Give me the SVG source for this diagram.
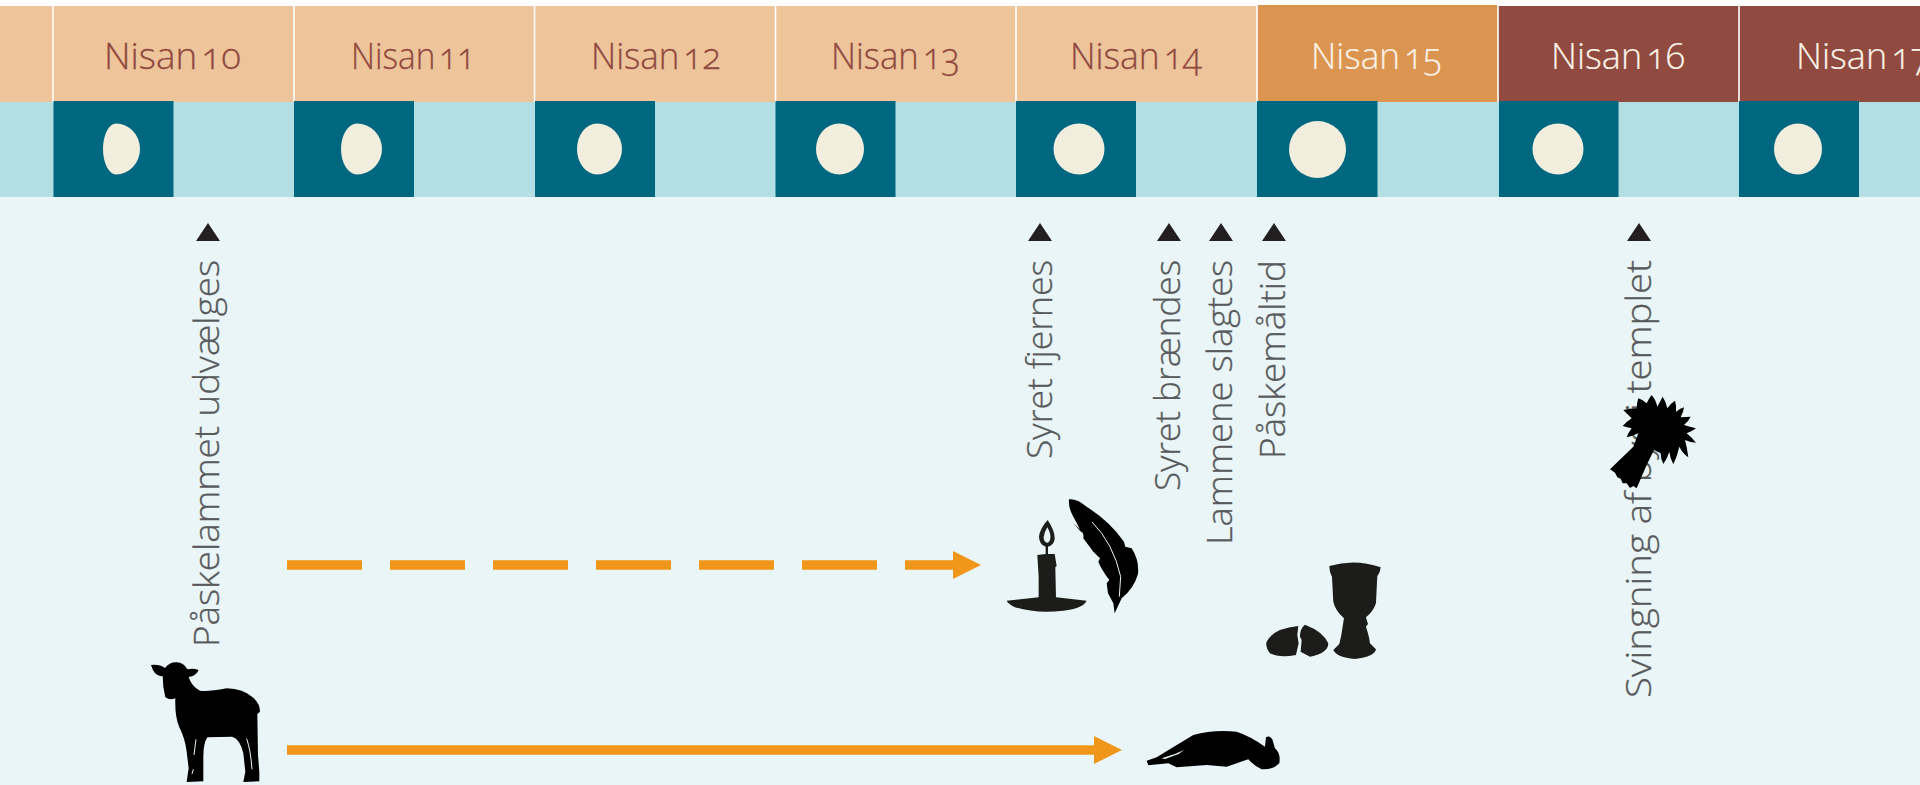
<svg xmlns="http://www.w3.org/2000/svg" width="1920" height="785" viewBox="0 0 1920 785">
<style>
.day{font-family:"Open Sans","Noto Sans",sans-serif;font-weight:300;font-size:36px;word-spacing:-5px;font-variant-numeric:oldstyle-nums;font-feature-settings:"onum" 1}
.br{fill:#904A3F;stroke:#904A3F;stroke-width:.3}.wh{fill:#FBF3E8;stroke:#FBF3E8;stroke-width:.2}
.lab{font-family:"Open Sans","Noto Sans",sans-serif;font-weight:300;font-size:35px;fill:#58595B;stroke:#58595B;stroke-width:.3}
.moon{fill:#F2EEDD}.dk{fill:#006780}.sep{stroke:#fff;stroke-width:1.6}
.tri{fill:#231F20}.ink{fill:#000}.ink2{fill:#1C1C1A}
</style>
<defs>
<marker id="ah" markerUnits="userSpaceOnUse" markerWidth="28" markerHeight="28" refX="2" refY="14" orient="auto"><path d="M0 0L28 14L0 28Z" fill="#F09619"/></marker>
</defs>
<rect width="1920" height="785" fill="#fff"/>
<rect y="197" width="1920" height="588" fill="#E9F5F7"/>
<rect y="101" width="1920" height="96" fill="#B3DEE3"/>
<rect y="6" width="1257" height="96" fill="#EEC49B"/>
<rect x="1257" y="5" width="241" height="97" fill="#DB9550"/>
<rect x="1498" y="6" width="422" height="96" fill="#904A3F"/>

<g id="sep"><path class="sep" d="M53 5V102M294 5V102M534.500 5V102M775.500 5V102M1016 5V102M1257 5V102M1498 5V102M1739 5V102"/></g>

<g id="n10"><text class="day br" x="104" y="69" textLength="137" lengthAdjust="spacingAndGlyphs">Nisan 10</text><rect class="dk" x="53.500" y="101" width="120" height="96"/><path class="moon" d="M116 123.500A24 25.500 0 0 1 116 174.500A13 25.500 0 0 1 116 123.500Z"/></g>
<g id="n11"><text class="day br" x="351" y="69" textLength="124" lengthAdjust="spacingAndGlyphs">Nisan 11</text><rect class="dk" x="294" y="101" width="120" height="96"/><path class="moon" d="M357 123.500A25 25.500 0 0 1 357 174.500A16 25.500 0 0 1 357 123.500Z"/></g>
<g id="n12"><text class="day br" x="591" y="69" textLength="130" lengthAdjust="spacingAndGlyphs">Nisan 12</text><rect class="dk" x="535" y="101" width="120" height="96"/><path class="moon" d="M597 123.500A25 25.500 0 0 1 597 174.500A20 25.500 0 0 1 597 123.500Z"/></g>
<g id="n13"><text class="day br" x="831" y="69" textLength="129" lengthAdjust="spacingAndGlyphs">Nisan 13</text><rect class="dk" x="775.500" y="101" width="120" height="96"/><path class="moon" d="M839 123.500A25 25.500 0 0 1 839 174.500A23 25.500 0 0 1 839 123.500Z"/></g>
<g id="n14"><text class="day br" x="1070" y="69" textLength="132" lengthAdjust="spacingAndGlyphs">Nisan 14</text><rect class="dk" x="1016" y="101" width="120" height="96"/><ellipse class="moon" cx="1079" cy="149" rx="25.500" ry="25.500"/></g>
<g id="n15"><text class="day wh" x="1311" y="69" textLength="131" lengthAdjust="spacingAndGlyphs">Nisan 15</text><rect class="dk" x="1257" y="101" width="120.500" height="96"/><ellipse class="moon" cx="1317.500" cy="149.500" rx="28.500" ry="28.500"/></g>
<g id="n16"><text class="day wh" x="1551" y="69" textLength="134" lengthAdjust="spacingAndGlyphs">Nisan 16</text><rect class="dk" x="1499" y="101" width="119.500" height="96"/><ellipse class="moon" cx="1558" cy="149" rx="25.500" ry="25.500"/></g>
<g id="n17"><text class="day wh" x="1796" y="69" textLength="134" lengthAdjust="spacingAndGlyphs">Nisan 17</text><rect class="dk" x="1739" y="101" width="120" height="96"/><ellipse class="moon" cx="1798" cy="149" rx="24" ry="25.500"/></g>

<g id="connectors">
<path d="M287 565H955" fill="none" stroke="#F09619" stroke-width="9.500" stroke-dasharray="75 28" marker-end="url(#ah)"/>
<path d="M287 750H1096" fill="none" stroke="#F09619" stroke-width="9.500" marker-end="url(#ah)"/>
</g>

<g id="tick-pa"><path class="tri" d="M208 223L220 241H196Z"/><text class="lab" transform="translate(219 647) rotate(-90)" textLength="387" lengthAdjust="spacingAndGlyphs">Påskelammet udvælges</text></g>
<g id="tick-syf"><path class="tri" d="M1040 223L1052 241H1028Z"/><text class="lab" transform="translate(1052 459) rotate(-90)" textLength="199" lengthAdjust="spacingAndGlyphs">Syret fjernes</text></g>
<g id="tick-syb"><path class="tri" d="M1169 223L1181 241H1157Z"/><text class="lab" transform="translate(1180 491) rotate(-90)" textLength="231" lengthAdjust="spacingAndGlyphs">Syret brændes</text></g>
<g id="tick-lam"><path class="tri" d="M1221 223L1233 241H1209Z"/><text class="lab" transform="translate(1232 545) rotate(-90)" textLength="285" lengthAdjust="spacingAndGlyphs">Lammene slagtes</text></g>
<g id="tick-pm"><path class="tri" d="M1274 223L1286 241H1262Z"/><text class="lab" transform="translate(1285 459) rotate(-90)" textLength="199" lengthAdjust="spacingAndGlyphs">Påskemåltid</text></g>
<g id="tick-sv"><path class="tri" d="M1639 223L1651 241H1627Z"/><text class="lab" transform="translate(1651 698) rotate(-90)" textLength="438" lengthAdjust="spacingAndGlyphs">Svingning af byg i templet</text></g>

<g id="lamb" transform="translate(120 640) scale(.3333)">
<path class="ink" d="M93 75Q118 72 135 84Q148 66 170 67Q192 68 202 88Q220 84 236 90Q228 108 206 111Q215 140 240 152Q262 156 320 145Q370 146 398 172Q420 190 420 215L412 222L414 345L418 395L418 424L370 426L376 395L370 340Q360 296 336 290L262 292Q250 310 250 350L250 424L200 426L206 385L200 335Q195 295 178 262Q164 230 166 175Q150 182 136 172Q128 140 128 108Q104 112 93 75Z"/>
<path d="M228 298L222 345M220 388L216 402M380 296Q392 330 396 388" fill="none" stroke="#E9F5F7" stroke-width="3"/>
</g>

<g id="candle-feather" transform="translate(980 480) scale(.3333)">
<path class="ink2" d="M203 120Q226 155 224 178Q220 198 204 200L204 222L224 222L230 258L226 262L228 352L320 362Q310 385 250 392Q170 402 105 382Q85 372 80 362L176 352L176 290L172 225L197 222L197 200Q178 195 177 170Q180 145 203 120Z"/>
<path d="M202 142Q213 160 211 176Q208 188 201 188Q191 186 191 172Q192 157 202 142Z" fill="#E9F5F7"/>
<path class="ink" d="M267 58Q290 55 320 80Q390 125 432 185L436 200L455 205Q478 240 474 282Q462 325 425 355L404 400L400 370L384 340L380 310L388 300Q365 270 355 245L360 235L340 215L310 175Q312 158 303 155L280 130L300 148L280 110Q265 85 267 58Z"/>
<path d="M336 126Q400 190 422 290L418 350" fill="none" stroke="#E9F5F7" stroke-width="3"/>
</g>

<g id="bread-cup" transform="translate(980 480) scale(.3333)">
<path class="ink2" d="M1048 258Q1125 235 1202 262Q1200 280 1192 288L1188 370Q1180 395 1158 412L1164 432L1158 440Q1168 470 1170 490L1188 508Q1185 530 1125 537Q1070 532 1060 510L1078 492Q1084 470 1088 440L1092 415Q1066 392 1060 365L1056 290Q1048 275 1048 258Z"/>
<path class="ink2" d="M955 438L952 465L956 490L948 525Q900 535 870 520Q855 500 860 485Q880 445 955 438Z"/>
<path class="ink2" d="M975 434Q1030 455 1045 490Q1045 520 990 530L962 515L965 480L960 470Q960 445 975 434Z"/>
</g>

<g id="slain-lamb" transform="translate(980 480) scale(.3333)">
<path class="ink" d="M500 842L530 832Q590 795 640 765Q700 748 770 755Q810 768 855 800L858 772Q868 765 877 778L885 805Q903 820 898 850Q880 870 845 868Q825 860 805 838L740 860L680 855L590 862L565 850L505 856Z"/>
<path d="M545 835L585 822L612 810L596 822L555 837Z" fill="#E9F5F7"/>
</g>

<g id="sheaf" transform="translate(1580 220) scale(.3333)">
<path class="ink" d="M215 525Q228 540 232 560Q240 545 248 530Q258 545 262 565Q272 550 285 542Q290 558 288 575Q302 565 312 562Q310 578 302 592Q318 590 332 590Q325 605 312 615Q330 620 348 625Q335 635 320 640Q335 652 348 668Q332 668 315 660Q322 685 325 712Q308 700 298 680Q292 708 280 733Q270 715 268 695Q262 715 250 732Q242 716 242 700L222 690L200 735L170 805L160 798L150 804L140 790L128 790L122 776L112 772L105 758L90 748L160 680L175 640Q158 648 140 652Q145 638 155 625Q142 622 128 618Q140 605 155 595Q142 582 130 570Q150 565 170 565Q170 550 175 535Q190 540 200 550Q205 538 215 525Z"/>
</g>
</svg>
